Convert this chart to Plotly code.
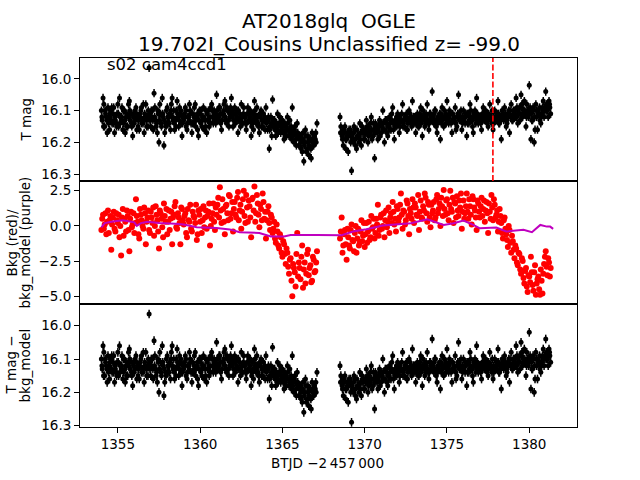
import plotly.graph_objects as go
from plotly.subplots import make_subplots

# ---------------- data ----------------
t_orbit1 = [
    1354.0, 1354.1, 1354.2, 1354.3, 1354.4, 1354.5, 1354.6, 1354.7, 1354.8, 1354.9,
    1355.0, 1355.1, 1355.2, 1355.3, 1355.4, 1355.5, 1355.6, 1355.7, 1355.8, 1355.9,
    1356.0, 1356.1, 1356.2, 1356.3, 1356.4, 1356.5, 1356.6, 1356.7, 1356.8, 1356.9,
    1357.0, 1357.1, 1357.2, 1357.3, 1357.4, 1357.5, 1357.6, 1357.7, 1357.8, 1357.9,
    1358.0, 1358.1, 1358.2, 1358.3, 1358.4, 1358.5, 1358.6, 1358.7, 1358.8, 1358.9,
    1359.0, 1359.1, 1359.2, 1359.3, 1359.4, 1359.5, 1359.6, 1359.7, 1359.8, 1359.9,
    1360.0, 1360.1, 1360.2, 1360.3, 1360.4, 1360.5, 1360.6, 1360.7, 1360.8, 1360.9,
    1361.0, 1361.1, 1361.2, 1361.3, 1361.4, 1361.5, 1361.6, 1361.7, 1361.8, 1361.9,
    1362.0, 1362.1, 1362.2, 1362.3, 1362.4, 1362.5, 1362.6, 1362.7, 1362.8, 1362.9,
    1363.0, 1363.1, 1363.2, 1363.3, 1363.4, 1363.5, 1363.6, 1363.7, 1363.8, 1363.9,
    1364.0, 1364.1, 1364.2, 1364.3, 1364.4, 1364.5, 1364.6, 1364.7, 1364.8, 1364.9,
    1365.0, 1365.1, 1365.2, 1365.3, 1365.4, 1365.5, 1365.6, 1365.7, 1365.8, 1365.9,
    1366.0, 1366.1, 1366.2, 1366.3, 1366.4, 1366.5, 1366.6, 1366.7, 1366.8, 1366.9,
    1367.0, 1367.1,
]
t_orbit1b = [
    1354.05, 1354.15, 1354.25, 1354.35, 1354.45, 1354.55, 1354.65, 1354.75, 1354.85, 1354.95,
    1355.05, 1355.15, 1355.25, 1355.35, 1355.45, 1355.55, 1355.65, 1355.75, 1355.85, 1355.95,
    1356.05, 1356.15, 1356.25, 1356.35, 1356.45, 1356.55, 1356.65, 1356.75, 1356.85, 1356.95,
    1357.05, 1357.15, 1357.25, 1357.35, 1357.45, 1357.55, 1357.65, 1357.75, 1357.85, 1357.95,
    1358.05, 1358.15, 1358.25, 1358.35, 1358.45, 1358.55, 1358.65, 1358.75, 1358.85, 1358.95,
    1359.05, 1359.15, 1359.25, 1359.35, 1359.45, 1359.55, 1359.65, 1359.75, 1359.85, 1359.95,
    1360.05, 1360.15, 1360.25, 1360.35, 1360.45, 1360.55, 1360.65, 1360.75, 1360.85, 1360.95,
    1361.05, 1361.15, 1361.25, 1361.35, 1361.45, 1361.55, 1361.65, 1361.75, 1361.85, 1361.95,
    1362.05, 1362.15, 1362.25, 1362.35, 1362.45, 1362.55, 1362.65, 1362.75, 1362.85, 1362.95,
    1363.05, 1363.15, 1363.25, 1363.35, 1363.45, 1363.55, 1363.65, 1363.75, 1363.85, 1363.95,
    1364.05, 1364.15, 1364.25, 1364.35, 1364.45, 1364.55, 1364.65, 1364.75, 1364.85, 1364.95,
    1365.05, 1365.15, 1365.25, 1365.35, 1365.45, 1365.55, 1365.65, 1365.75, 1365.85, 1365.95,
    1366.05, 1366.15, 1366.25, 1366.35, 1366.45, 1366.55, 1366.65, 1366.75, 1366.85, 1366.95,
    1367.05,
]
t_orbit1c = [
    1354.03, 1354.13, 1354.23, 1354.33, 1354.43, 1354.53, 1354.63, 1354.73, 1354.83, 1354.93,
    1355.03, 1355.13, 1355.23, 1355.33, 1355.43, 1355.53, 1355.63, 1355.73, 1355.83, 1355.93,
    1356.03, 1356.13, 1356.23, 1356.33, 1356.43, 1356.53, 1356.63, 1356.73, 1356.83, 1356.93,
    1357.03, 1357.13, 1357.23, 1357.33, 1357.43, 1357.53, 1357.63, 1357.73, 1357.83, 1357.93,
    1358.03, 1358.13, 1358.23, 1358.33, 1358.43, 1358.53, 1358.63, 1358.73, 1358.83, 1358.93,
    1359.03, 1359.13, 1359.23, 1359.33, 1359.43, 1359.53, 1359.63, 1359.73, 1359.83, 1359.93,
    1360.03, 1360.13, 1360.23, 1360.33, 1360.43, 1360.53, 1360.63, 1360.73, 1360.83, 1360.93,
    1361.03, 1361.13, 1361.23, 1361.33, 1361.43, 1361.53, 1361.63, 1361.73, 1361.83, 1361.93,
    1362.03, 1362.13, 1362.23, 1362.33, 1362.43, 1362.53, 1362.63, 1362.73, 1362.83, 1362.93,
    1363.03, 1363.13, 1363.23, 1363.33, 1363.43, 1363.53, 1363.63, 1363.73, 1363.83, 1363.93,
    1364.03, 1364.13, 1364.23, 1364.33, 1364.43, 1364.53, 1364.63, 1364.73, 1364.83, 1364.93,
    1365.03, 1365.13, 1365.23, 1365.33, 1365.43, 1365.53, 1365.63, 1365.73, 1365.83, 1365.93,
    1366.03, 1366.13, 1366.23, 1366.33, 1366.43, 1366.53, 1366.63, 1366.73, 1366.83, 1366.93,
    1367.03,
]
t_orbit2 = [
    1368.5, 1368.6, 1368.7, 1368.8, 1368.9,
    1369.0, 1369.1, 1369.2, 1369.3, 1369.4, 1369.5, 1369.6, 1369.7, 1369.8, 1369.9,
    1370.0, 1370.1, 1370.2, 1370.3, 1370.4, 1370.5, 1370.6, 1370.7, 1370.8, 1370.9,
    1371.0, 1371.1, 1371.2, 1371.3, 1371.4, 1371.5, 1371.6, 1371.7, 1371.8, 1371.9,
    1372.0, 1372.1, 1372.2, 1372.3, 1372.4, 1372.5, 1372.6, 1372.7, 1372.8, 1372.9,
    1373.0, 1373.1, 1373.2, 1373.3, 1373.4, 1373.5, 1373.6, 1373.7, 1373.8, 1373.9,
    1374.0, 1374.1, 1374.2, 1374.3, 1374.4, 1374.5, 1374.6, 1374.7, 1374.8, 1374.9,
    1375.0, 1375.1, 1375.2, 1375.3, 1375.4, 1375.5, 1375.6, 1375.7, 1375.8, 1375.9,
    1376.0, 1376.1, 1376.2, 1376.3, 1376.4, 1376.5, 1376.6, 1376.7, 1376.8, 1376.9,
    1377.0, 1377.1, 1377.2, 1377.3, 1377.4, 1377.5, 1377.6, 1377.7, 1377.8, 1377.9,
    1378.0, 1378.1, 1378.2, 1378.3, 1378.4, 1378.5, 1378.6, 1378.7, 1378.8, 1378.9,
    1379.0, 1379.1, 1379.2, 1379.3, 1379.4, 1379.5, 1379.6, 1379.7, 1379.8, 1379.9,
    1380.0, 1380.1, 1380.2, 1380.3, 1380.4, 1380.5, 1380.6, 1380.7, 1380.8, 1380.9,
    1381.0, 1381.1, 1381.2, 1381.3,
]
t_orbit2b = [
    1368.55, 1368.65, 1368.75, 1368.85, 1368.95,
    1369.05, 1369.15, 1369.25, 1369.35, 1369.45, 1369.55, 1369.65, 1369.75, 1369.85, 1369.95,
    1370.05, 1370.15, 1370.25, 1370.35, 1370.45, 1370.55, 1370.65, 1370.75, 1370.85, 1370.95,
    1371.05, 1371.15, 1371.25, 1371.35, 1371.45, 1371.55, 1371.65, 1371.75, 1371.85, 1371.95,
    1372.05, 1372.15, 1372.25, 1372.35, 1372.45, 1372.55, 1372.65, 1372.75, 1372.85, 1372.95,
    1373.05, 1373.15, 1373.25, 1373.35, 1373.45, 1373.55, 1373.65, 1373.75, 1373.85, 1373.95,
    1374.05, 1374.15, 1374.25, 1374.35, 1374.45, 1374.55, 1374.65, 1374.75, 1374.85, 1374.95,
    1375.05, 1375.15, 1375.25, 1375.35, 1375.45, 1375.55, 1375.65, 1375.75, 1375.85, 1375.95,
    1376.05, 1376.15, 1376.25, 1376.35, 1376.45, 1376.55, 1376.65, 1376.75, 1376.85, 1376.95,
    1377.05, 1377.15, 1377.25, 1377.35, 1377.45, 1377.55, 1377.65, 1377.75, 1377.85, 1377.95,
    1378.05, 1378.15, 1378.25, 1378.35, 1378.45, 1378.55, 1378.65, 1378.75, 1378.85, 1378.95,
    1379.05, 1379.15, 1379.25, 1379.35, 1379.45, 1379.55, 1379.65, 1379.75, 1379.85, 1379.95,
    1380.05, 1380.15, 1380.25, 1380.35, 1380.45, 1380.55, 1380.65, 1380.75, 1380.85, 1380.95,
    1381.05, 1381.15, 1381.25,
]
t_orbit2c = [
    1368.53, 1368.63, 1368.73, 1368.83, 1368.93,
    1369.03, 1369.13, 1369.23, 1369.33, 1369.43, 1369.53, 1369.63, 1369.73, 1369.83, 1369.93,
    1370.03, 1370.13, 1370.23, 1370.33, 1370.43, 1370.53, 1370.63, 1370.73, 1370.83, 1370.93,
    1371.03, 1371.13, 1371.23, 1371.33, 1371.43, 1371.53, 1371.63, 1371.73, 1371.83, 1371.93,
    1372.03, 1372.13, 1372.23, 1372.33, 1372.43, 1372.53, 1372.63, 1372.73, 1372.83, 1372.93,
    1373.03, 1373.13, 1373.23, 1373.33, 1373.43, 1373.53, 1373.63, 1373.73, 1373.83, 1373.93,
    1374.03, 1374.13, 1374.23, 1374.33, 1374.43, 1374.53, 1374.63, 1374.73, 1374.83, 1374.93,
    1375.03, 1375.13, 1375.23, 1375.33, 1375.43, 1375.53, 1375.63, 1375.73, 1375.83, 1375.93,
    1376.03, 1376.13, 1376.23, 1376.33, 1376.43, 1376.53, 1376.63, 1376.73, 1376.83, 1376.93,
    1377.03, 1377.13, 1377.23, 1377.33, 1377.43, 1377.53, 1377.63, 1377.73, 1377.83, 1377.93,
    1378.03, 1378.13, 1378.23, 1378.33, 1378.43, 1378.53, 1378.63, 1378.73, 1378.83, 1378.93,
    1379.03, 1379.13, 1379.23, 1379.33, 1379.43, 1379.53, 1379.63, 1379.73, 1379.83, 1379.93,
    1380.03, 1380.13, 1380.23, 1380.33, 1380.43, 1380.53, 1380.63, 1380.73, 1380.83, 1380.93,
    1381.03, 1381.13, 1381.23,
]

tmag_orbit1 = [
    16.10, 16.06, 16.15, 16.12, 16.09, 16.16, 16.13, 16.11, 16.17, 16.14,
    16.08, 16.06, 16.13, 16.16, 16.10, 16.12, 16.15, 16.07, 16.11, 16.18,
    16.14, 16.09, 16.12, 16.16, 16.10, 16.13, 16.17, 16.08, 16.12, 15.965,
    16.15, 16.10, 16.045, 16.13, 16.17, 16.20, 16.11, 16.06, 16.21, 16.14,
    16.09, 16.12, 16.16, 16.06, 16.10, 16.13, 16.07, 16.15, 16.11, 16.18,
    16.13, 16.09, 16.16, 16.12, 16.10, 16.17, 16.14, 16.08, 16.12, 16.18,
    16.11, 16.15, 16.09, 16.13, 16.17, 16.10, 16.12, 16.08, 16.14, 16.11,
    16.05, 16.13, 16.09, 16.16, 16.11, 16.07, 16.14, 16.10, 16.12, 16.06,
    16.15, 16.09, 16.13, 16.17, 16.11, 16.08, 16.14, 16.12, 16.16, 16.09,
    16.13, 16.18, 16.11, 16.07, 16.14, 16.12, 16.17, 16.10, 16.15, 16.13,
    16.09, 16.16, 16.22, 16.12, 16.065, 16.15, 16.18, 16.11, 16.14, 16.17,
    16.13, 16.19, 16.15, 16.12, 16.18, 16.16, 16.09, 16.20, 16.17, 16.14,
    16.21, 16.18, 16.23, 16.26, 16.16, 16.22, 16.24, 16.19, 16.17, 16.21,
    16.19, 16.14,
]
tmag_orbit1b = [
    16.13, 16.08, 16.11, 16.17, 16.12, 16.10, 16.14, 16.09, 16.13, 16.11,
    16.15, 16.12, 16.09, 16.14, 16.17, 16.11, 16.08, 16.13, 16.15, 16.12,
    16.10, 16.16, 16.13, 16.11, 16.14, 16.08, 16.12, 16.15, 16.10, 16.13,
    16.12, 16.16, 16.09, 16.14, 16.11, 16.08, 16.15, 16.12, 16.17, 16.10,
    16.14, 16.11, 16.08, 16.13, 16.16, 16.10, 16.12, 16.09, 16.14, 16.12,
    16.11, 16.15, 16.12, 16.08, 16.14, 16.11, 16.09, 16.13, 16.16, 16.10,
    16.14, 16.12, 16.16, 16.10, 16.13, 16.15, 16.09, 16.12, 16.10, 16.14,
    16.12, 16.09, 16.14, 16.11, 16.08, 16.13, 16.10, 16.15, 16.09, 16.12,
    16.11, 16.14, 16.10, 16.13, 16.15, 16.12, 16.09, 16.14, 16.11, 16.13,
    16.10, 16.14, 16.16, 16.12, 16.09, 16.15, 16.12, 16.13, 16.11, 16.16,
    16.13, 16.12, 16.15, 16.18, 16.13, 16.16, 16.14, 16.17, 16.12, 16.15,
    16.17, 16.14, 16.18, 16.16, 16.13, 16.19, 16.17, 16.15, 16.21, 16.18,
    16.19, 16.22, 16.17, 16.20, 16.23, 16.18, 16.21, 16.25, 16.20, 16.18,
    16.20,
]
tmag_orbit1c = [
    16.12, 16.15, 16.10, 16.13, 16.14, 16.11, 16.09, 16.14, 16.12, 16.15,
    16.11, 16.14, 16.12, 16.10, 16.13, 16.15, 16.12, 16.10, 16.14, 16.11,
    16.13, 16.11, 16.15, 16.12, 16.09, 16.14, 16.11, 16.13, 16.15, 16.11,
    16.10, 16.13, 16.12, 16.15, 16.10, 16.13, 16.14, 16.11, 16.13, 16.15,
    16.12, 16.14, 16.10, 16.12, 16.14, 16.15, 16.11, 16.13, 16.10, 16.14,
    16.12, 16.10, 16.14, 16.13, 16.11, 16.14, 16.12, 16.15, 16.11, 16.13,
    16.10, 16.13, 16.12, 16.15, 16.11, 16.13, 16.14, 16.10, 16.12, 16.13,
    16.10, 16.12, 16.11, 16.13, 16.10, 16.12, 16.09, 16.13, 16.11, 16.10,
    16.13, 16.11, 16.12, 16.10, 16.13, 16.14, 16.11, 16.12, 16.14, 16.11,
    16.12, 16.15, 16.13, 16.10, 16.12, 16.14, 16.11, 16.15, 16.13, 16.12,
    16.14, 16.13, 16.16, 16.14, 16.15, 16.13, 16.16, 16.15, 16.14, 16.16,
    16.15, 16.17, 16.16, 16.14, 16.17, 16.15, 16.18, 16.16, 16.19, 16.17,
    16.18, 16.20, 16.19, 16.21, 16.18, 16.20, 16.19, 16.22, 16.19, 16.20,
    16.17,
]
tmag_orbit2 = [
    16.12, 16.17, 16.21, 16.15, 16.19,
    16.23, 16.17, 16.29, 16.20, 16.16, 16.22, 16.18, 16.14, 16.21, 16.17,
    16.19, 16.13, 16.20, 16.16, 16.12, 16.18, 16.25, 16.15, 16.19, 16.13,
    16.17, 16.10, 16.20, 16.14, 16.18, 16.12, 16.16, 16.09, 16.19, 16.14,
    16.11, 16.17, 16.13, 16.08, 16.15, 16.12, 16.16, 16.10, 16.14, 16.07,
    16.13, 16.17, 16.11, 16.15, 16.09, 16.18, 16.12, 16.14, 16.08, 16.16,
    16.11, 16.04, 16.14, 16.10, 16.17, 16.13, 16.19, 16.09, 16.15, 16.12,
    16.07, 16.14, 16.11, 16.17, 16.13, 16.09, 16.15, 16.05, 16.12, 16.16,
    16.10, 16.14, 16.18, 16.11, 16.08, 16.13, 16.17, 16.10, 16.06, 16.14,
    16.12, 16.16, 16.09, 16.13, 16.11, 16.15, 16.08, 16.12, 16.16, 16.10,
    16.13, 16.07, 16.14, 16.19, 16.11, 16.09, 16.15, 16.12, 16.17, 16.08,
    16.13, 16.10, 16.06, 16.14, 16.09, 16.05, 16.12, 16.07, 16.15, 16.10,
    16.02, 16.19, 16.13, 16.20, 16.08, 16.16, 16.11, 16.14, 16.09, 16.12,
    16.04, 16.10, 16.07, 16.11,
]
tmag_orbit2b = [
    16.15, 16.19, 16.17, 16.22, 16.18,
    16.16, 16.20, 16.19, 16.15, 16.21, 16.18, 16.20, 16.17, 16.15, 16.19,
    16.17, 16.15, 16.18, 16.14, 16.19, 16.16, 16.14, 16.17, 16.15, 16.18,
    16.14, 16.16, 16.13, 16.17, 16.15, 16.14, 16.11, 16.16, 16.13, 16.15,
    16.13, 16.15, 16.11, 16.14, 16.12, 16.16, 16.13, 16.11, 16.15, 16.12,
    16.14, 16.12, 16.15, 16.11, 16.13, 16.10, 16.15, 16.12, 16.14, 16.11,
    16.13, 16.12, 16.10, 16.15, 16.12, 16.11, 16.14, 16.12, 16.10, 16.14,
    16.12, 16.10, 16.14, 16.11, 16.13, 16.16, 16.11, 16.13, 16.10, 16.14,
    16.12, 16.11, 16.14, 16.13, 16.10, 16.15, 16.12, 16.14, 16.11, 16.13,
    16.14, 16.11, 16.13, 16.10, 16.14, 16.12, 16.13, 16.10, 16.14, 16.12,
    16.11, 16.14, 16.12, 16.10, 16.13, 16.11, 16.14, 16.10, 16.12, 16.13,
    16.11, 16.12, 16.09, 16.11, 16.13, 16.08, 16.10, 16.11, 16.08, 16.12,
    16.09, 16.13, 16.10, 16.16, 16.12, 16.10, 16.13, 16.11, 16.07, 16.10,
    16.08, 16.12, 16.09,
]
tmag_orbit2c = [
    16.17, 16.18, 16.16, 16.19, 16.17,
    16.18, 16.16, 16.18, 16.17, 16.19, 16.16, 16.18, 16.19, 16.17, 16.16,
    16.16, 16.17, 16.15, 16.17, 16.16, 16.14, 16.17, 16.15, 16.16, 16.14,
    16.15, 16.14, 16.16, 16.13, 16.15, 16.16, 16.13, 16.14, 16.15, 16.12,
    16.14, 16.12, 16.13, 16.15, 16.13, 16.11, 16.14, 16.13, 16.12, 16.14,
    16.12, 16.14, 16.13, 16.12, 16.14, 16.12, 16.13, 16.11, 16.13, 16.14,
    16.12, 16.13, 16.11, 16.13, 16.14, 16.12, 16.11, 16.13, 16.12, 16.11,
    16.13, 16.12, 16.11, 16.13, 16.12, 16.14, 16.12, 16.11, 16.13, 16.12,
    16.13, 16.12, 16.11, 16.14, 16.12, 16.13, 16.11, 16.12, 16.13, 16.12,
    16.12, 16.13, 16.11, 16.12, 16.13, 16.11, 16.12, 16.14, 16.12, 16.13,
    16.12, 16.11, 16.13, 16.12, 16.11, 16.12, 16.13, 16.11, 16.10, 16.12,
    16.10, 16.11, 16.12, 16.10, 16.11, 16.09, 16.11, 16.10, 16.12, 16.11,
    16.10, 16.11, 16.09, 16.12, 16.10, 16.11, 16.09, 16.12, 16.10, 16.09,
    16.10, 16.09, 16.08,
]

bkg_orbit1 = [
    -0.3, 0.8, 0.1, -0.6, 1.1, 0.4, -1.7, 0.6, -0.2, 0.9,
    0.2, -0.8, -2.1, 1.2, 0.5, -0.4, 0.7, -1.8, 1.0, 0.1,
    -0.5, 1.9, 0.3, -0.9, 0.8, 0.0, 1.3, -1.3, 0.6, -0.3,
    1.0, 0.2, -0.7, 1.4, 0.4, -1.6, 0.9, -0.1, 1.6, 0.3,
    -0.6, 1.1, 0.5, -1.3, 0.8, 1.7, -0.2, 0.6, -1.3, 1.2,
    0.1, 0.9, -0.8, 0.4, 1.5, -0.4, 0.7, 0.2, -1.0, 1.1,
    0.3, -0.5, 1.4, 0.6, -0.2, 1.0, -1.4, 0.5, 1.6, -0.3,
    0.8, 2.0, 2.75, 0.2, 1.2, -0.6, 1.5, 0.4, 2.1, 0.9,
    -0.4, 1.7, 0.6, 2.4, 1.1, -0.2, 1.9, 0.7, 2.2, 0.3,
    1.4, -0.8, 2.0, 2.8, 0.9, 1.6, -0.1, 1.2, 2.3, 0.5,
    -0.9, 1.0, 0.2, 0.8, -0.5, 0.3, -1.2, -0.4, -1.6, -0.8,
    -2.2, -1.3, -2.7, -1.9, -3.4, -2.3, -5.0, -3.0, -4.3, -0.5,
    -2.6, -3.8, -1.4, -3.1, -4.1, -2.0, -3.5, -2.8, -3.9, -2.4,
    -3.2, -1.8,
]
bkg_orbit1b = [
    0.5, -0.2, 0.9, 0.3, -0.5, 0.7, 0.1, 1.0, -0.4, 0.4,
    0.8, 0.0, 0.6, -0.7, 0.3, 1.1, -0.3, 0.5, -0.1, 0.9,
    0.2, 0.7, -0.6, 1.2, 0.4, -0.2, 0.9, 0.3, 1.1, -0.5,
    0.6, 1.3, 0.0, 0.8, -0.4, 1.1, 0.5, -0.8, 0.7, 1.2,
    0.3, -0.3, 1.0, 0.6, 1.4, -0.1, 0.9, 0.2, 1.3, 0.4,
    0.7, -0.5, 1.2, 0.3, -0.2, 1.0, 0.6, 1.5, -0.6, 0.8,
    1.2, 0.4, -0.1, 1.1, 0.7, 1.6, 0.0, 0.9, 0.3, 1.3,
    1.5, 0.6, 1.1, 1.9, 0.3, 1.4, 0.9, 2.2, 0.5, 1.7,
    1.2, 0.8, 2.0, 0.4, 1.5, 1.0, 2.5, 0.2, 1.3, 1.8,
    0.6, 1.9, 1.1, 0.3, 2.2, 0.8, 1.5, 0.4, 1.7, 1.0,
    0.4, 1.4, -0.3, 0.6, -0.2, -0.9, 0.1, -1.4, -0.6, -1.9,
    -1.1, -2.0, -1.6, -2.9, -2.4, -3.9, -2.7, -3.3, -2.0, -3.6,
    -3.0, -2.2, -4.4, -2.6, -3.4, -1.7, -3.0, -4.0, -2.2, -3.3,
    -2.6,
]
bkg_orbit2 = [
    -0.9, 0.6, -1.4, -0.3, -2.4,
    -0.8, -1.6, 0.1, -1.1, -0.5, -1.9, -0.2, -1.2, 0.4, -0.7,
    -1.5, 0.2, -0.4, -1.0, 0.7, -0.1, -0.9, 0.5, 1.5, -0.3,
    0.8, 0.0, -0.8, 1.1, 0.3, -0.5, 0.9, 1.7, 0.1, -0.4,
    1.2, 0.6, 2.3, -0.2, 1.0, 0.4, 1.6, -0.6, 0.9, 1.9,
    0.2, 1.3, 0.7, -0.3, 1.8, 0.5, 1.1, 2.0, 0.3, 1.5,
    -0.1, 0.9, 1.7, 0.6, 2.2, 1.2, 0.0, 1.4, 2.55, 0.8,
    1.9, 0.4, 2.5, 1.0, 0.2, 1.6, 2.1, 0.7, 1.3, -0.2,
    1.8, 0.9, 2.3, 0.5, 1.4, 0.1, 1.9, 1.1, -0.3, 1.6,
    0.6, 2.0, 1.2, 0.3, 1.7, -0.5, 1.0, 2.2, 0.4, 1.5,
    0.8, -0.4, 1.2, 0.2, -0.9, 0.6, -0.6, -1.5, -0.3, -1.9,
    -1.1, -2.3, -1.6, -2.8, -2.0, -3.4, -2.5, -4.1, -3.0, -4.7,
    -3.6, -2.2, -4.2, -3.3, -4.9, -3.8, -4.5, -3.1, -4.8, -2.7,
    -1.8, -3.5, -2.6, -3.0,
]
bkg_orbit2b = [
    -0.4, -1.9, -0.6, -1.3, -0.2,
    -1.4, -0.3, -1.0, -1.8, 0.0, -0.9, -1.4, -0.4, -1.1, 0.2,
    -0.6, -1.2, 0.3, -0.8, -0.2, 0.5, -0.5, 0.1, -0.7, 0.6,
    -0.2, 0.9, 0.4, -0.1, 1.3, 0.6, 0.2, 1.0, 0.5, 1.4,
    0.3, 1.5, 0.8, 1.1, 0.1, 1.8, 0.7, 1.2, 0.5, 1.3,
    1.6, 0.8, 2.2, 1.0, 0.6, 1.4, 2.3, 0.9, 1.7, 0.6,
    1.5, 1.1, 0.4, 1.9, 0.9, 1.6, 2.0, 0.7, 1.2, 1.8,
    0.9, 1.5, 1.2, 2.0, 1.7, 0.6, 1.1, 1.8, 2.3, 1.0,
    0.5, 1.4, 1.0, 1.9, 0.8, 2.1, 1.3, 0.6, 1.8, 1.0,
    1.4, 0.7, 1.8, 1.1, 0.9, 1.6, 0.5, 1.3, 1.9, 0.6,
    1.1, 0.3, 0.7, -0.5, 0.4, -0.2, -1.0, 0.0, -1.2, -0.7,
    -1.7, -1.4, -2.6, -1.9, -3.1, -2.3, -3.7, -3.2, -4.3, -3.5,
    -4.0, -3.3, -4.6, -2.8, -4.1, -3.6, -4.9, -3.9, -3.4, -2.2,
    -2.9, -2.3, -3.6,
]

t_model = [
    1354.0, 1354.2, 1354.6, 1355.3, 1355.8, 1356.0, 1356.15, 1356.4, 1356.8, 1357.5,
    1358.5, 1359.0, 1359.8, 1361.0, 1361.8, 1362.4, 1363.6, 1364.3, 1365.1, 1365.5,
    1367.1, 1368.6, 1369.3, 1370.1, 1371.1, 1372.2, 1372.8, 1373.8, 1374.8, 1375.4,
    1376.0, 1376.6, 1377.0, 1378.0, 1378.6, 1379.65, 1380.16, 1380.67, 1381.07, 1381.27,
    1381.45,
]
bkg_model = [
    -0.1, 0.2, 0.3, 0.4, 0.3, 0.25, 0.0, 0.2, 0.3, 0.2,
    0.15, 0.1, -0.1, -0.15, -0.25, -0.45, -0.5, -0.75, -0.75, -0.65,
    -0.65, -0.66, -0.4, -0.24, 0.02, 0.12, 0.19, 0.47, 0.07, 0.19,
    0.38, 0.07, -0.17, -0.12, -0.4, -0.28, -0.45, 0.07, -0.05, -0.05,
    -0.21,
]

mag_ticks = [16.0, 16.1, 16.2, 16.3]
mag_tick_labels = ["16.0", "16.1", "16.2", "16.3"]
bkg_ticks = [2.5, 0.0, -2.5, -5.0]
bkg_tick_labels = ["2.5", "0.0", "\u22122.5", "\u22125.0"]
time_ticks = [1355, 1360, 1365, 1370, 1375, 1380]

time_mag = t_orbit1 + t_orbit1b + t_orbit1c + t_orbit2 + t_orbit2b + t_orbit2c
tmag = tmag_orbit1 + tmag_orbit1b + tmag_orbit1c + tmag_orbit2 + tmag_orbit2b + tmag_orbit2c
tmag_minus_bkg_model = tmag_orbit1 + tmag_orbit1b + tmag_orbit1c + tmag_orbit2 + tmag_orbit2b + tmag_orbit2c
time_bkg = t_orbit1 + t_orbit1b + t_orbit2 + t_orbit2b
bkg = bkg_orbit1 + bkg_orbit1b + bkg_orbit2 + bkg_orbit2b

mag_err = 0.013
event_time = 1377.79

title_line1 = "AT2018glq\u00a0 OGLE"
title_line2 = "19.702I_Cousins Unclassified z= -99.0"
sector_label = "s02 cam4ccd1"

# ---------------- figure ----------------
FONT = "DejaVu Sans"
fig = make_subplots(rows=3, cols=1, shared_xaxes=True, vertical_spacing=0)

fig.add_trace(go.Scatter(
    x=time_mag, y=tmag, mode="markers",
    marker=dict(color="black", size=5),
    error_y=dict(type="constant", value=mag_err, color="black", thickness=1.5, width=0),
    showlegend=False, hoverinfo="skip"), row=1, col=1)

fig.add_trace(go.Scatter(
    x=time_bkg, y=bkg, mode="markers",
    marker=dict(color="#ff0000", size=6),
    showlegend=False, hoverinfo="skip"), row=2, col=1)
fig.add_trace(go.Scatter(
    x=t_model, y=bkg_model, mode="lines",
    line=dict(color="#bf00bf", width=2),
    showlegend=False, hoverinfo="skip"), row=2, col=1)

fig.add_trace(go.Scatter(
    x=time_mag, y=tmag_minus_bkg_model, mode="markers",
    marker=dict(color="black", size=5),
    error_y=dict(type="constant", value=mag_err, color="black", thickness=1.5, width=0),
    showlegend=False, hoverinfo="skip"), row=3, col=1)

fig.add_shape(type="line", xref="x", yref="y domain", x0=event_time, x1=event_time,
              y0=0, y1=1, line=dict(color="#ff0000", width=1.6, dash="6px,2.5px"))

axis_common = dict(showline=True, linecolor="black", linewidth=1, mirror=True,
                   showgrid=False, zeroline=False,
                   tickfont=dict(family=FONT, size=13.5, color="black"),
                   tickcolor="black", tickwidth=1, ticklen=5)

fig.update_xaxes(**axis_common, range=[1352.7, 1382.9])
fig.update_xaxes(ticks="", showticklabels=False, row=1, col=1)
fig.update_xaxes(ticks="", showticklabels=False, row=2, col=1)
fig.update_xaxes(ticks="outside", showticklabels=True, tickmode="array", tickvals=time_ticks,
                 ticktext=[str(v) for v in time_ticks], row=3, col=1)

fig.update_yaxes(**axis_common, ticks="outside", tickmode="array")
fig.update_yaxes(range=[16.322, 15.934], tickvals=mag_ticks, ticktext=mag_tick_labels, row=1, col=1)
fig.update_yaxes(range=[-5.55, 3.19], tickvals=bkg_ticks, ticktext=bkg_tick_labels, row=2, col=1)
fig.update_yaxes(range=[16.304, 15.935], tickvals=mag_ticks, ticktext=mag_tick_labels, row=3, col=1)

def ann(text, x, y, size=13.5, angle=0, xanchor="center", yanchor="middle"):
    fig.add_annotation(text=text, x=x, y=y, xref="paper", yref="paper", showarrow=False,
                       textangle=angle, xanchor=xanchor, yanchor=yanchor,
                       font=dict(family=FONT, size=size, color="black"))

ann(title_line1, 0.5, 1.1003, size=20)
ann(title_line2, 0.5, 1.0379, size=20)
ann(sector_label, 0.050, 0.983, size=16.5, xanchor="left")
ann("T mag", -0.1087, 0.8333, angle=-90)
ann("Bkg (red)/", -0.1388, 0.5, angle=-90)
ann("bkg_model (purple)", -0.1107, 0.5, angle=-90)
ann("T mag \u2212", -0.1388, 0.1667, angle=-90)
ann("bkg_model", -0.1087, 0.1667, angle=-90)
ann("BTJD \u22122\u2009457\u2009000", 0.498, -0.0976)

fig.update_layout(width=640, height=480, margin=dict(l=80, r=63, t=58, b=53),
                  paper_bgcolor="white", plot_bgcolor="white",
                  font=dict(family=FONT, color="black"))

# remove the default 8 px page margin so the figure sits at the window's corner
fig.write_html("out.html", config={"displayModeBar": False},
               post_script="document.body.style.margin='0px';")
